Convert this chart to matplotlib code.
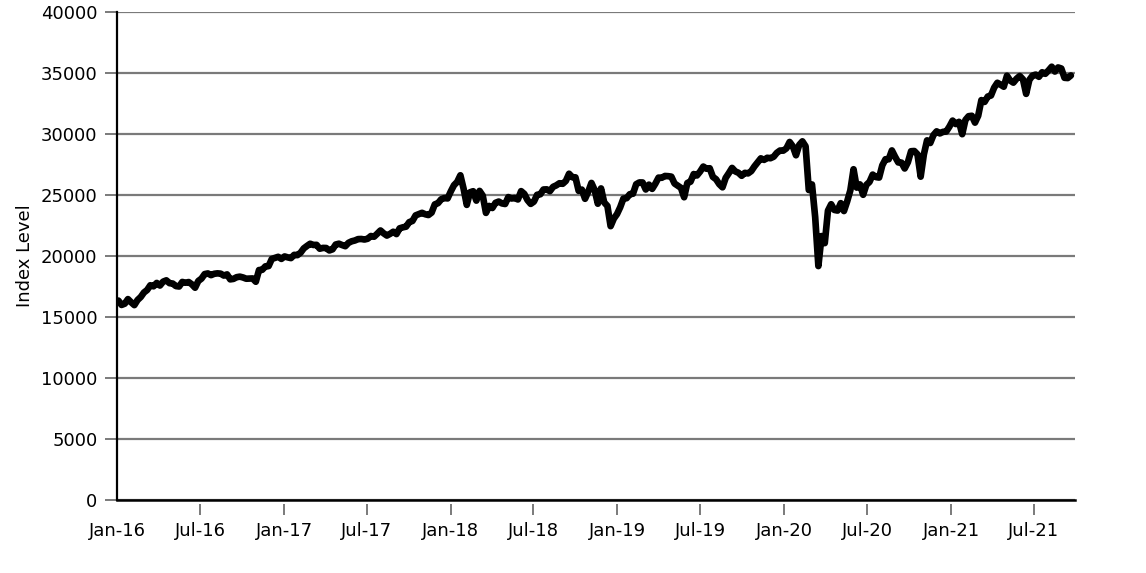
import pandas as pd
import matplotlib
matplotlib.use("Agg")
import matplotlib.pyplot as plt
import matplotlib.dates as mdates

# weekly index level, one list per year
idx_2016 = [16346, 15988, 16093, 16466, 16205, 15974, 16392, 16640, 17007, 17213,
            17602, 17516, 17793, 17577, 17898, 18004, 17774, 17741, 17535, 17501,
            17873, 17807, 17865, 17675, 17400, 17949, 18147, 18517, 18571, 18432,
            18543, 18577, 18553, 18395, 18492, 18085, 18124, 18262, 18308, 18240,
            18138, 18145, 18161, 17888, 18848, 18868, 19152, 19171, 19757, 19843,
            19934, 19763]
idx_2017 = [19964, 19886, 19827, 20094, 20071, 20269, 20624, 20822, 21005, 20903,
            20915, 20597, 20663, 20656, 20453, 20548, 20941, 21007, 20897, 20805,
            21080, 21206, 21272, 21384, 21395, 21350, 21414, 21638, 21580, 21830,
            22093, 21858, 21675, 21814, 21988, 21798, 22268, 22350, 22405, 22774,
            22871, 23329, 23434, 23539, 23422, 23358, 23558, 24232, 24329, 24652,
            24754, 24719]
idx_2018 = [25296, 25803, 26072, 26617, 25521, 24191, 25220, 25310, 24538, 25336,
            24947, 23533, 24103, 23933, 24360, 24463, 24311, 24263, 24831, 24715,
            24753, 24635, 25317, 25090, 24581, 24271, 24456, 25019, 25058, 25451,
            25463, 25313, 25669, 25790, 25965, 25917, 26155, 26744, 26458, 26447,
            25340, 25444, 24689, 25271, 25989, 25413, 24286, 25538, 24389, 24101,
            22445, 23062]
idx_2019 = [23433, 23996, 24706, 24737, 25064, 25106, 25883, 26031, 26026, 25450,
            25849, 25502, 25929, 26425, 26412, 26559, 26543, 26505, 25942, 25764,
            25586, 24815, 25984, 26090, 26719, 26600, 26922, 27332, 27154, 27192,
            26485, 26287, 25886, 25629, 26403, 26797, 27220, 26935, 26820, 26573,
            26817, 26770, 26958, 27347, 27681, 28005, 27876, 28051, 28015, 28135,
            28455, 28645]
idx_2020 = [28635, 28824, 29348, 28990, 28256, 29103, 29398, 28992, 25409, 25865,
            23186, 19174, 21637, 21053, 23720, 24242, 23775, 23724, 24331, 23685,
            24465, 25383, 27111, 25606, 25871, 25016, 25827, 26075, 26672, 26470,
            26428, 27433, 27931, 27930, 28654, 28133, 27666, 27657, 27174, 27683,
            28587, 28606, 28336, 26502, 28323, 29480, 29263, 29910, 30218, 30046,
            30179, 30200]
idx_2021 = [30606, 31098, 30814, 30997, 29983, 31148, 31458, 31494, 30932, 31496,
            32779, 32628, 33072, 33153, 33801, 34200, 34043, 33875, 34778, 34382,
            34208, 34529, 34756, 34480, 33290, 34433, 34786, 34870, 34687, 35061,
            34935, 35208, 35515, 35120, 35455, 35369, 34607, 34584, 34798]

values = idx_2016 + idx_2017 + idx_2018 + idx_2019 + idx_2020 + idx_2021
weeks = pd.date_range("2016-01-04", periods=len(values), freq="W-MON")

fig = plt.figure(figsize=(11.46, 5.73), dpi=100)
ax = fig.add_axes([117 / 1146, 73 / 573, 958 / 1146, 488 / 573])

ax.plot(weeks, values, color="black", lw=4.8,
        solid_joinstyle="round", solid_capstyle="round", zorder=3)

ax.set_ylim(0, 40000)
ax.set_yticks(range(0, 40001, 5000))
ax.set_xlim(pd.Timestamp("2016-01-01"), pd.Timestamp("2021-09-29"))
ax.xaxis.set_major_locator(mdates.MonthLocator(bymonth=[1, 7]))
ax.xaxis.set_major_formatter(mdates.DateFormatter("%b-%y"))

ax.yaxis.grid(True, color="#7a7a7a", lw=1.6)
ax.set_axisbelow(True)

for s in ["top", "right"]:
    ax.spines[s].set_visible(False)
ax.spines["left"].set_linewidth(1.6)
ax.spines["left"].set_color("black")
# bottom axis line at zero, ticks sit a little below it
ax.spines["bottom"].set_position(("outward", 3))
ax.spines["bottom"].set_color("none")
ax.axhline(0, color="black", lw=1.8, zorder=4, clip_on=False)

ax.tick_params(axis="y", direction="out", length=9, width=1.4, color="#7a7a7a",
               labelsize=13, pad=5)
ax.tick_params(axis="x", direction="out", length=8, width=1.4, color="#7a7a7a",
               labelsize=13, pad=5)
ax.xaxis.get_major_ticks()[0].tick1line.set_visible(False)

ax.set_ylabel("Index Level", fontsize=13, labelpad=5)

fig.savefig("out.png", dpi=100)
